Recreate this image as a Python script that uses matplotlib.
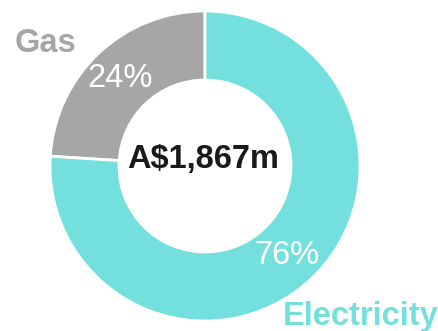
import matplotlib.pyplot as plt

# Energy spend split
labels = ['Gas', 'Electricity']
shares = [24, 76]
total = 'A$1,867m'
colors = ['#a6a6a6', '#74e0de']

plt.rcParams['font.family'] = ['Liberation Sans', 'DejaVu Sans']

fig = plt.figure(figsize=(4.39, 3.31), dpi=100)
ax = fig.add_axes([0, 0, 1, 1])

wedges, texts, autotexts = ax.pie(
    shares, colors=colors, startangle=90, counterclock=True,
    center=(205, 165), radius=155, frame=True,
    autopct='%d%%', pctdistance=0.81,
    wedgeprops=dict(width=69, edgecolor='white', linewidth=2),
    textprops=dict(color='white', fontsize=23.5))
ax.set_xlim(0, 439)
ax.set_ylim(0, 331)
ax.set_aspect('equal')
ax.axis('off')

# nudge the percentage labels a little
autotexts[0].set_position((120, 252))
autotexts[1].set_position((287, 76))

# centre total
ax.text(203, 171, total, ha='center', va='center', fontsize=23.5,
        fontweight='bold', color='#1a1a1a')

# category names outside the ring
ax.text(15, 279, labels[0], ha='left', va='baseline', fontsize=23.5,
        fontweight='bold', color=colors[0])
ax.text(283, 6, labels[1], ha='left', va='baseline', fontsize=23.5,
        fontweight='bold', color=colors[1])

fig.savefig('out.png', dpi=100)
